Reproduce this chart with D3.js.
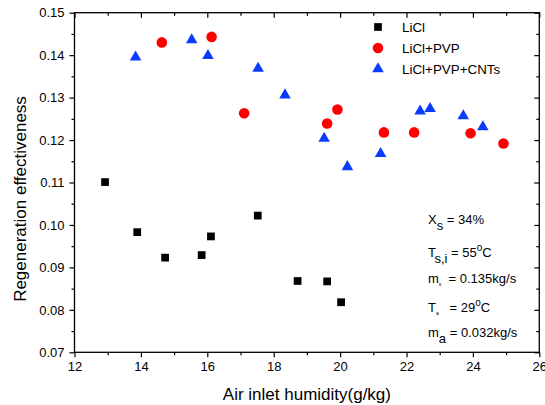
<!DOCTYPE html>
<html><head><meta charset="utf-8">
<script src="https://cdn.jsdelivr.net/npm/d3@7"></script>
<style>
body{margin:0;background:#fff;}
svg text{font-family:"Liberation Sans",Arial,sans-serif;fill:#000;}
</style></head>
<body><svg id="chart" width="545" height="405"></svg>
<script>
// ---- data ----
const seriesNames = ["LiCl", "LiCl+PVP", "LiCl+PVP+CNTs"];
const xLiCl = [12.92, 13.89, 14.73, 15.83, 16.11, 17.52, 18.72, 19.61, 20.03];
const yLiCl = [0.1101, 0.0983, 0.0923, 0.0929, 0.0973, 0.1022, 0.0868, 0.0867, 0.0818];
const xPVP = [14.63, 16.13, 17.11, 19.61, 19.92, 21.32, 22.23, 23.93, 24.92];
const yPVP = [0.1430, 0.1443, 0.1263, 0.1239, 0.1272, 0.1218, 0.1218, 0.1216, 0.1192];
const xCNT = [13.84, 15.53, 16.02, 17.53, 18.34, 19.52, 20.22, 21.22, 22.41, 22.71, 23.71, 24.30];
const yCNT = [0.1395, 0.1436, 0.1399, 0.1369, 0.1306, 0.1204, 0.1137, 0.1168, 0.1268, 0.1274, 0.1257, 0.1231];
const xTicks = [12, 14, 16, 18, 20, 22, 24, 26];
const xMinor = [13, 15, 17, 19, 21, 23, 25];
const yTicks = [0.07, 0.08, 0.09, 0.10, 0.11, 0.12, 0.13, 0.14, 0.15];
const yMinor = [0.075, 0.085, 0.095, 0.105, 0.115, 0.125, 0.135, 0.145];
const xTitle = "Air inlet humidity(g/kg)";
const yTitle = "Regeneration effectiveness";

// ---- layout ----
const L = 74.5, R = 539.3, T = 12.7, B = 352.3;
const svg = d3.select("#chart");
const x = d3.scaleLinear().domain([12, 26]).range([L, R]);
const y = d3.scaleLinear().domain([0.07, 0.15]).range([B, T]);

function styleAxis(g){
  g.select(".domain").remove();
  g.selectAll(".tick line").attr("stroke","#000").attr("stroke-width",1.2);
  g.selectAll(".tick text").style("font-size","13px").attr("fill","#000");
}
// bottom (outward)
svg.append("g").attr("transform",`translate(0,${B})`)
  .call(d3.axisBottom(x).tickValues(xTicks).tickSize(5).tickPadding(4).tickFormat(d3.format("d")))
  .call(styleAxis);
svg.append("g").attr("transform",`translate(0,${B})`)
  .call(d3.axisBottom(x).tickValues(xMinor).tickSize(3).tickFormat(""))
  .call(styleAxis);
// top (inward)
svg.append("g").attr("transform",`translate(0,${T})`)
  .call(d3.axisBottom(x).tickValues(xTicks).tickSize(5).tickFormat(""))
  .call(styleAxis);
svg.append("g").attr("transform",`translate(0,${T})`)
  .call(d3.axisBottom(x).tickValues(xMinor).tickSize(3).tickFormat(""))
  .call(styleAxis);
// left (outward)
svg.append("g").attr("transform",`translate(${L},0)`)
  .call(d3.axisLeft(y).tickValues(yTicks).tickSize(5).tickPadding(5).tickFormat(d3.format(".2f")))
  .call(styleAxis);
svg.append("g").attr("transform",`translate(${L},0)`)
  .call(d3.axisLeft(y).tickValues(yMinor).tickSize(3).tickFormat(""))
  .call(styleAxis);
// right (inward)
svg.append("g").attr("transform",`translate(${R},0)`)
  .call(d3.axisLeft(y).tickValues(yTicks).tickSize(5).tickFormat(""))
  .call(styleAxis);
svg.append("g").attr("transform",`translate(${R},0)`)
  .call(d3.axisLeft(y).tickValues(yMinor).tickSize(3).tickFormat(""))
  .call(styleAxis);
svg.selectAll("g").attr("font-family", null);

// frame
svg.append("rect").attr("x",L).attr("y",T).attr("width",R-L).attr("height",B-T)
  .attr("fill","none").attr("stroke","#000").attr("stroke-width",1.3);

// titles
svg.append("text").attr("x",(L+R)/2).attr("y",400).attr("text-anchor","middle")
  .style("font-size","17px").text(xTitle);
svg.append("text").attr("transform",`translate(26,199) rotate(-90)`).attr("text-anchor","middle")
  .style("font-size","17px").text(yTitle);

// markers
const sq = d3.symbol().type(d3.symbolSquare).size(60);
const ci = d3.symbol().type(d3.symbolCircle).size(88);
const tr = d3.symbol().type(d3.symbolTriangle).size(58);
const specs = [
  {xs:xLiCl, ys:yLiCl, sym:sq, color:"#000000"},
  {xs:xPVP, ys:yPVP, sym:ci, color:"#ff0000"},
  {xs:xCNT, ys:yCNT, sym:tr, color:"#0a3cff"}
];
specs.forEach(s=>{
  svg.append("g").selectAll("path").data(s.xs.map((v,i)=>[v,s.ys[i]])).join("path")
    .attr("d", s.sym()).attr("fill", s.color)
    .attr("transform", d=>`translate(${x(d[0])},${y(d[1])})`);
});

// legend
const leg = svg.append("g").attr("transform","translate(378,27)");
specs.forEach((s,i)=>{
  leg.append("path").attr("d", s.sym()).attr("fill", s.color)
    .attr("transform",`translate(0,${i*21})`);
  leg.append("text").attr("x",24).attr("y",i*21+5).style("font-size","13.4px").text(seriesNames[i]);
});

// annotation
const ann = svg.append("g").style("font-size","13px");
function line(yb, parts){
  const t = ann.append("text").attr("x",428).attr("y",yb).style("white-space","pre");
  parts.forEach(p=>{
    const ts = t.append("tspan").text(p[0]);
    if(p[1]) ts.style("font-size", p[1]+"px");
    if(p[2]) ts.attr("dy", p[2]);
  });
}
line(224, [["X"],["s",13,6],[" = 34%",null,-6]]);
line(256.5, [["T"],["s,i",13,6],[" = 55",null,-6],["o",10,-6],["C",null,6]]);
line(283, [["m"],["s",5,3],["  = 0.135kg/s",null,-3]]);
line(312, [["T"],["a",5,3],["   = 29",null,-3],["o",10,-6],["C",null,6]]);
line(337, [["m"],["a",13,6],[" = 0.032kg/s",null,-6]]);
</script></body></html>
